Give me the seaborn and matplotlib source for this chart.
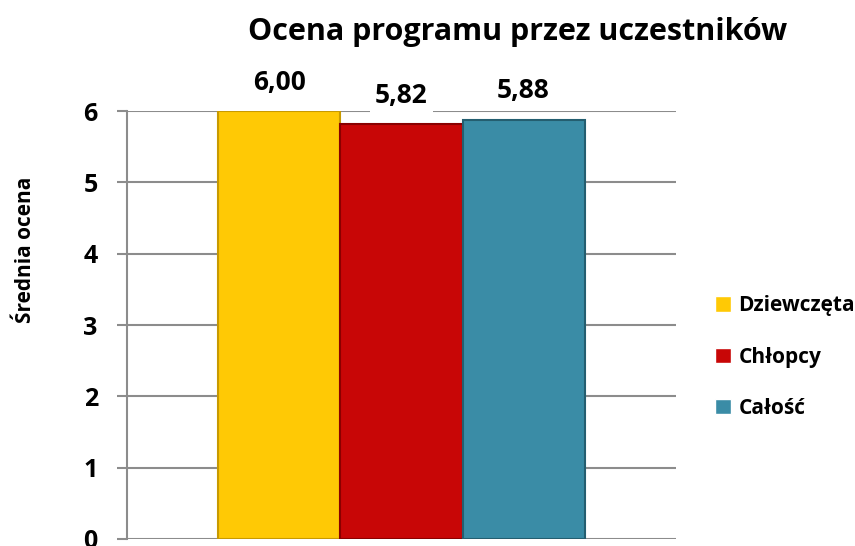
import seaborn as sns
import matplotlib.pyplot as plt
import pandas as pd

grupy = ["Dziewczęta", "Chłopcy", "Całość"]
oceny = [6.00, 5.82, 5.88]
etykiety = ["6,00", "5,82", "5,88"]
kolory = ["#FFC905", "#C80606", "#3A8CA6"]
krawedzie = ["#C89A00", "#8A0000", "#245E70"]

df = pd.DataFrame({"x": [""] * 3, "grupa": grupy, "ocena": oceny})

sns.set_theme(style="white")
plt.rcParams['font.family'] = ['Open Sans', 'DejaVu Sans']
plt.rcParams['font.weight'] = 'bold'
plt.rcParams['text.color'] = 'black'
plt.rcParams['axes.labelcolor'] = 'black'
plt.rcParams['ytick.color'] = 'black'

fig = plt.figure(figsize=(8.55, 5.46), dpi=100)
ax = fig.add_axes([127 / 855, 1 - 539 / 546, 549 / 855, 428 / 546])

sns.barplot(data=df, x="x", y="ocena", hue="grupa", palette=kolory,
            width=0.667, saturation=1, ax=ax, zorder=3)

for cont, ec, lab in zip(ax.containers, krawedzie, etykiety):
    for bar in cont:
        bar.set_edgecolor(ec)
        bar.set_linewidth(1.5)
    ax.bar_label(cont, labels=[lab], padding=11, fontsize=19, fontweight='bold',
                 bbox=dict(facecolor='white', edgecolor='none', pad=4), zorder=4)

ax.set_ylim(0, 6)
ax.set_xlim(-0.5, 0.5)
ax.set_yticks(range(7))
ax.set_xticks([])
ax.set_xlabel("")
ax.yaxis.grid(True, color="#8C8C8C", linewidth=1.5, zorder=0)
ax.set_axisbelow(True)
for s in ["top", "right", "bottom"]:
    ax.spines[s].set_visible(False)
ax.spines["left"].set_color("#8C8C8C")
ax.spines["left"].set_linewidth(1.5)
ax.tick_params(axis='y', left=True, length=7, width=1.5, color="#8C8C8C",
               labelcolor='black', pad=14, labelsize=18)
for t in ax.get_yticklabels():
    t.set_fontweight('bold')

ax.set_ylabel("Średnia ocena", fontsize=15, fontweight='bold')
ax.yaxis.set_label_coords(-0.166, 0.675)

fig.text(518 / 855, 1 - 32 / 546, "Ocena programu przez uczestników",
         ha='center', va='center', fontsize=22, fontweight='bold')

leg = ax.legend(loc='center left', bbox_to_anchor=(705 / 855, 1 - 357 / 546),
                bbox_transform=fig.transFigure, frameon=False, fontsize=15,
                handlelength=0.75, handleheight=0.75, handletextpad=0.35,
                labelspacing=1.45, borderpad=0)
for t in leg.get_texts():
    t.set_fontweight('bold')

fig.savefig("out.png", dpi=100)
